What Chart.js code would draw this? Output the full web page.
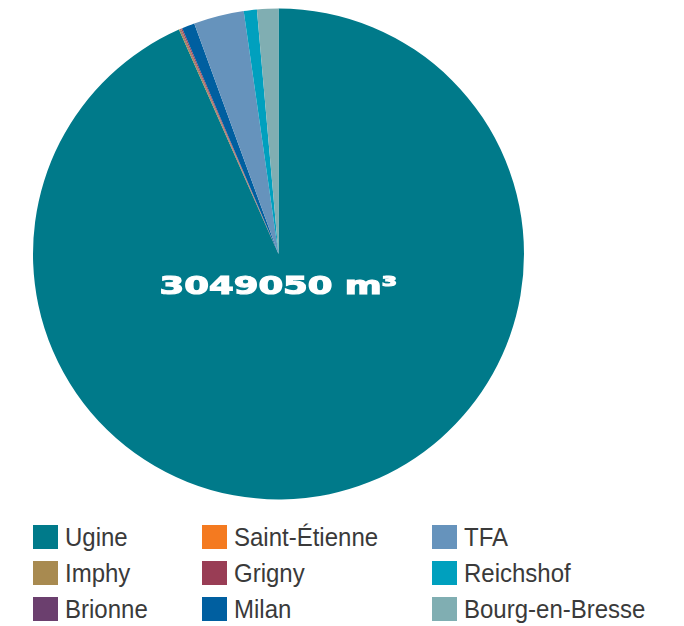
<!DOCTYPE html>
<html>
<head>
<meta charset="utf-8">
<script src="https://cdn.jsdelivr.net/npm/chart.js@4"></script>
<style>
  body { margin: 0; background: #fff; }
  .wrap { position: relative; width: 684px; height: 626px; }
  .chart-box { position: absolute; left: 0; top: 0; width: 684px; height: 500px; }
  #legend {
    position: absolute; left: 33px; top: 525px;
    display: grid; grid-auto-flow: column;
    grid-template-rows: repeat(3, 36px);
    grid-template-columns: 169px 230px 220px;
    font-family: "Liberation Sans", sans-serif;
    font-size: 25px; color: #3a3a3a;
  }
  #legend .item { display: flex; align-items: center; height: 24px; white-space: nowrap; }
  #legend .box { width: 25px; height: 24px; margin-right: 7px; flex: none; }
  #legend .txt { display: inline-block; transform: scaleX(0.96); transform-origin: left center; }
</style>
</head>
<body>
<div class="wrap">
  <div class="chart-box"><canvas id="myChart"></canvas></div>
  <div id="legend"></div>
</div>
<script>
const sites = ['Ugine', 'Imphy', 'Brionne', 'Saint-Étienne', 'Grigny', 'Milan', 'TFA', 'Reichshof', 'Bourg-en-Bresse'];
const volumes = [2846370, 2500, 1500, 800, 2230, 25660, 100960, 26260, 42770];
const colors = ['#007a8a', '#a88a50', '#6b3f6e', '#f47a20', '#993d55', '#005fa0', '#6693bc', '#00a0be', '#80aeb2'];
const unit = 'm³';

// total written over the big slice
const centerText = {
  id: 'centerText',
  afterDraw(chart) {
    const c = chart.ctx;
    const total = chart.data.datasets[0].data.reduce((a, b) => a + b, 0);
    const meta = chart.getDatasetMeta(0).data[0];
    c.save();
    c.translate(meta.x, meta.y + 33);
    c.scale(1.42, 1);
    c.font = 'bold 25px "DejaVu Sans"';
    c.fillStyle = '#fff';
    c.strokeStyle = '#fff';
    c.lineWidth = 1.2;
    c.textAlign = 'center';
    c.textBaseline = 'middle';
    c.fillText(total + ' ' + unit, 0, 0);
    c.strokeText(total + ' ' + unit, 0, 0);
    c.restore();
  }
};

const ctx = document.getElementById('myChart');
const chart = new Chart(ctx, {
  type: 'pie',
  data: {
    labels: sites,
    datasets: [{
      data: volumes,
      backgroundColor: colors,
      borderWidth: 0
    }]
  },
  options: {
    responsive: true,
    maintainAspectRatio: false,
    animation: false,
    layout: { padding: { left: 33, right: 160, top: 8, bottom: 0 } },
    plugins: {
      legend: { display: false },
      tooltip: { enabled: false }
    }
  },
  plugins: [centerText]
});

// html legend, column by column
const legend = document.getElementById('legend');
sites.forEach(function(name, i) {
  const item = document.createElement('div');
  item.className = 'item';
  item.innerHTML = '<span class="box" style="background:' + colors[i] + '"></span><span class="txt">' + name + '</span>';
  legend.appendChild(item);
});
</script>
</body>
</html>
